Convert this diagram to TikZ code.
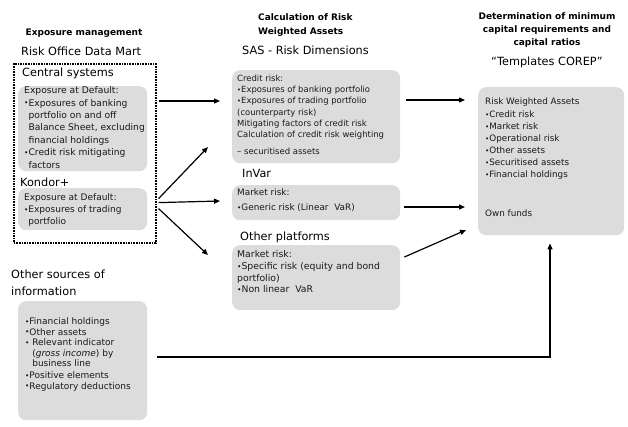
\documentclass[tikz,border=0pt]{standalone}
\usepackage{fontspec}
\usepackage{graphicx}
\setmainfont{DejaVu Sans}
\usetikzlibrary{arrows.meta,calc}
\definecolor{boxgray}{HTML}{DCDCDC}
\newcommand\blt{\raisebox{0.05ex}{\scalebox{0.8}{\textbullet}}}
\newcommand\ind{\phantom{\blt}}
\begin{document}
\begin{tikzpicture}[x=1pt,y=-1pt,
  box/.style={fill=boxgray,draw=none,rounded corners=8pt,anchor=north west,inner sep=0pt},
  frame/.style={draw=black,line width=1.6pt,densely dotted,anchor=north west,inner sep=0pt},
  body/.style={anchor=north west,inner sep=0pt,align=left,text=black!90},
  title/.style={anchor=west,inner sep=0pt,font=\fontsize{11.3}{14}\selectfont},
  head/.style={inner sep=0pt,font=\fontsize{9}{13}\selectfont\bfseries},
  arr/.style={line width=1.2pt,-{Triangle[length=6pt,width=5pt]}}]
\useasboundingbox (0,0) rectangle (628,426);

% ---- left column: exposure management ----
\node[head,anchor=center] (h1) at (84,33) {Exposure management};
\node[title] (t1) at (21,51) {Risk Office Data Mart};
\node[frame,minimum width=142pt,minimum height=179pt] (frame) at (13,63) {};
\node[title] (t2) at (22,73) {Central systems};
\node[box,minimum width=129pt,minimum height=85pt] (cs) at (18,86) {};
\node[body,font=\fontsize{9.2}{12.4}\selectfont] (cst) at (24,86.6)
  {Exposure at Default:\\
   \blt Exposures of banking\\
   \ind portfolio on and off\\
   \ind Balance Sheet, excluding\\
   \ind financial holdings\\
   \blt Credit risk mitigating\\
   \ind factors};
\node[title] (t3) at (20,182) {Kondor+};
\node[box,minimum width=129pt,minimum height=42pt] (kd) at (18,188) {};
\node[body,font=\fontsize{9}{12}\selectfont] (kdt) at (24,193.6)
  {Exposure at Default:\\
   \blt Exposures of trading\\
   \ind portfolio};
\node[title,anchor=north west,align=left,font=\fontsize{11.3}{17}\selectfont] (t4) at (11,269.5)
  {Other sources of\\information};
\node[box,minimum width=129pt,minimum height=119pt] (os) at (18,301) {};
\node[body,font=\fontsize{9}{10.5}\selectfont] (ost) at (25,317.6)
  {\blt Financial holdings\\
   \blt Other assets\\
   \blt\ Relevant indicator\\
   \ind\ (\textit{gross income}) by\\
   \ind\ business line\\[1.5pt]
   \blt Positive elements\\
   \blt Regulatory deductions};

% ---- middle column: risk weighted assets ----
\node[head,anchor=north west,align=left,font=\fontsize{9}{14}\selectfont\bfseries] (h2) at (258,13.6)
  {Calculation of Risk\\Weighted Assets};
\node[title] (t5) at (242,50) {SAS - Risk Dimensions};
\node[box,minimum width=168pt,minimum height=93pt] (sas) at (232,70) {};
\node[body,font=\fontsize{8.45}{11.2}\selectfont] (sast) at (237,74.9)
  {Credit risk:\\
   \blt Exposures of banking portfolio\\
   \blt Exposures of trading portfolio\\
   (counterparty risk)\\
   Mitigating factors of credit risk\\
   Calculation of credit risk weighting\\[6pt]
   -- securitised assets};
\node[title] (t6) at (242,173) {InVar};
\node[box,minimum width=168pt,minimum height=35pt] (iv) at (232,185) {};
\node[body,font=\fontsize{8.9}{15}\selectfont] (ivt) at (237,188.6)
  {Market risk:\\
   \blt Generic risk (Linear~~VaR)};
\node[title] (t7) at (240,237) {Other platforms};
\node[box,minimum width=168pt,minimum height=65pt] (op) at (232,245) {};
\node[body,font=\fontsize{9.3}{11.7}\selectfont] (opt) at (237,250.4)
  {Market risk:\\
   \blt Specific risk (equity and bond\\
   portfolio)\\
   \blt Non linear~~VaR};

% ---- right column: capital requirements ----
\node[head,anchor=north,align=center] (h3) at (547,12.6)
  {Determination of minimum\\capital requirements and\\capital ratios};
\node[title,anchor=center] (t8) at (547,62) {``Templates COREP''};
\node[box,minimum width=146pt,minimum height=148pt] (cr) at (478,87) {};
\node[body,font=\fontsize{8.8}{12}\selectfont] (crt) at (485,97.7)
  {Risk Weighted Assets\\[1pt]
   \blt Credit risk\\
   \blt Market risk\\
   \blt Operational risk\\
   \blt Other assets\\
   \blt Securitised assets\\
   \blt Financial holdings};
\node[body,anchor=west,font=\fontsize{8.8}{12}\selectfont] (crf) at (485,213) {Own funds};

% ---- connectors ----
\draw[arr] ([shift={(2,38)}]frame.north east) -- ([shift={(-12,31)}]sas.north west);
\draw[arr] ([shift={(2,-41)}]frame.south east) -- ([shift={(-12,16)}]iv.north west);
\draw[arr] ([shift={(2,-45)}]frame.south east) -- ([shift={(-24,77)}]sas.north west);
\draw[arr] ([shift={(2,-35)}]frame.south east) -- ([shift={(-24,10)}]op.north west);
\draw[arr] ([shift={(6,30)}]sas.north east) -- ([shift={(-13,13)}]cr.north west);
\draw[arr] ([shift={(4,22)}]iv.north east) -- ([shift={(-13,120)}]cr.north west);
\draw[arr] ([shift={(4,12)}]op.north east) -- ([shift={(-12,143)}]cr.north west);
\draw[arr] ([shift={(10,56)}]os.north east) -| ([shift={(72,8)}]cr.south west);
\end{tikzpicture}
\end{document}
